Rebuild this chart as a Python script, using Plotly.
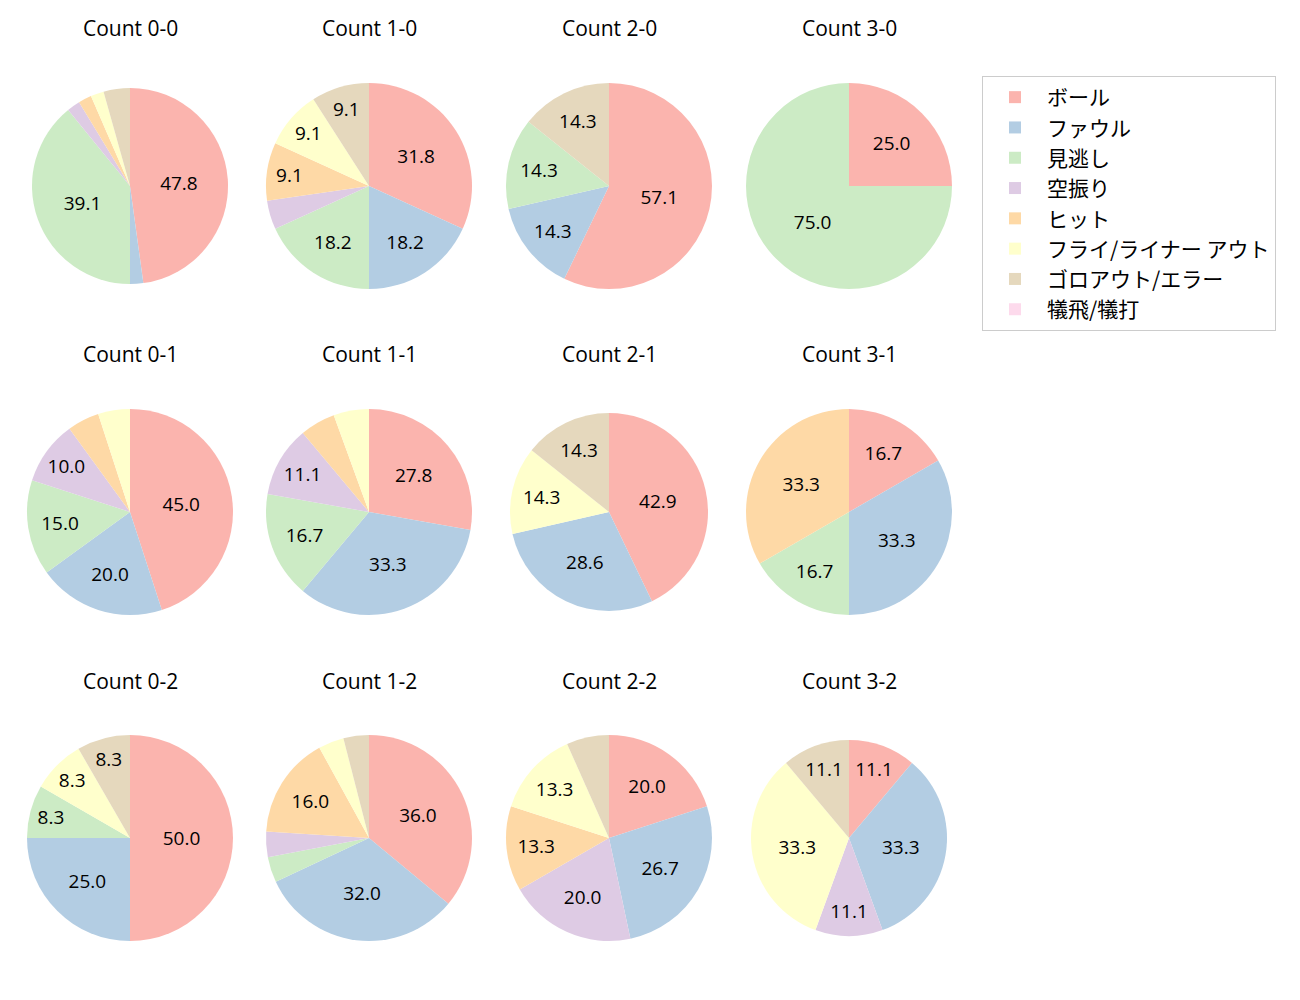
import plotly.graph_objects as go

labels = ['ボール', 'ファウル', '見逃し', '空振り', 'ヒット',
          'フライ/ライナー アウト', 'ゴロアウト/エラー', '犠飛/犠打']

colors = ['#fbb4ae', '#b3cde3', '#ccebc5', '#decbe4',
          '#fed9a6', '#ffffcc', '#e5d8bd', '#fddaec']

titles = ['Count 0-0', 'Count 1-0', 'Count 2-0', 'Count 3-0',
          'Count 0-1', 'Count 1-1', 'Count 2-1', 'Count 3-1',
          'Count 0-2', 'Count 1-2', 'Count 2-2', 'Count 3-2']

# 各カウントの結果件数（ラベル順）
counts = [
    [22, 1, 18, 1, 1, 1, 2, 0],   # 0-0
    [7, 4, 4, 1, 2, 2, 2, 0],     # 1-0
    [4, 1, 1, 0, 0, 0, 1, 0],     # 2-0
    [1, 0, 3, 0, 0, 0, 0, 0],     # 3-0
    [9, 4, 3, 2, 1, 1, 0, 0],     # 0-1
    [5, 6, 3, 2, 1, 1, 0, 0],     # 1-1
    [3, 2, 0, 0, 0, 1, 1, 0],     # 2-1
    [1, 2, 1, 0, 2, 0, 0, 0],     # 3-1
    [6, 3, 1, 0, 0, 1, 1, 0],     # 0-2
    [9, 8, 1, 1, 4, 1, 1, 0],     # 1-2
    [3, 4, 0, 3, 2, 2, 1, 0],     # 2-2
    [1, 3, 0, 1, 0, 3, 1, 0],     # 3-2
]

# レイアウト（ピクセル、ページ余白8pxを差し引く）
OFF = 8
col_x = [130, 369, 609, 849]
row_y = [186, 512, 838]
title_y = [28, 354, 681]
radii = [98, 103, 103, 103,
         103, 103, 99, 103,
         103, 103, 103, 98]

W, H = 1300, 1000
FONT = 'Open Sans, Noto Sans CJK JP'
LEG_FONT = 'Noto Sans CJK JP'


def px(x):
    return (x - OFF) / W


def py(y):
    return 1 - (y - OFF) / H


fig = go.Figure()

for i, vals in enumerate(counts):
    r, c = divmod(i, 4)
    cx, cy, rad = col_x[c], row_y[r], radii[i]
    total = sum(vals)
    texts = []
    for v in vals:
        p = 100 * v / total
        texts.append(f'{p:.1f}' if p > 7 else '')

    fig.add_trace(go.Pie(
        labels=labels,
        values=vals,
        text=texts,
        textinfo='text',
        textposition='inside',
        insidetextorientation='horizontal',
        textfont=dict(family=FONT, size=19, color='#000000'),
        marker=dict(colors=colors, line=dict(width=0)),
        sort=False,
        direction='clockwise',
        rotation=0,
        hoverinfo='label+percent',
        showlegend=(i == 0),
        domain=dict(x=[px(cx - rad), px(cx + rad)],
                    y=[py(cy + rad), py(cy - rad)]),
    ))

    fig.add_annotation(
        x=px(cx), y=py(title_y[r]),
        xref='paper', yref='paper',
        text=titles[i], showarrow=False,
        font=dict(family=FONT, size=21, color='#000000'),
        xanchor='center', yanchor='middle'
    )

fig.update_layout(
    width=W, height=H,
    margin=dict(l=0, r=0, t=0, b=0),
    paper_bgcolor='white',
    plot_bgcolor='white',
    uniformtext=dict(minsize=19, mode='show'),
    legend=dict(
        font=dict(family=LEG_FONT, size=21, color='#000000'),
        bgcolor='white',
        bordercolor='#cccccc',
        borderwidth=1,
        itemwidth=54,
        x=px(982), y=py(76),
        xanchor='left', yanchor='top',
        traceorder='normal',
    ),
)

fig.write_html('out.html')
